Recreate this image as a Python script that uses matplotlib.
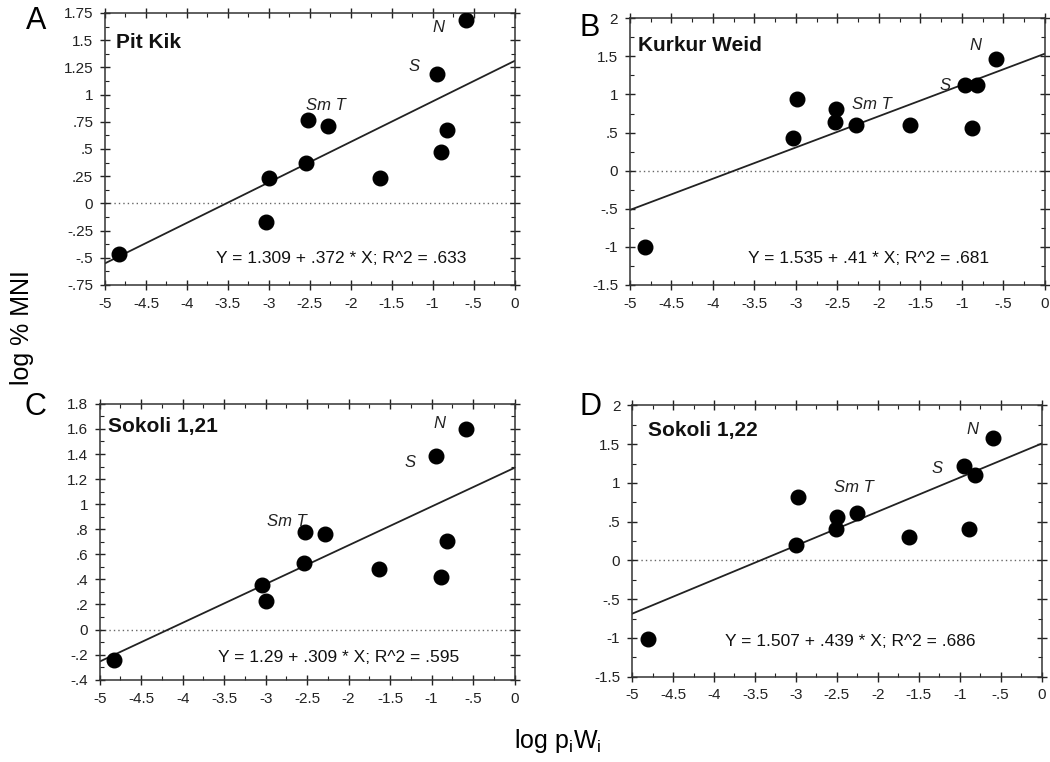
import matplotlib
matplotlib.use("Agg")
import matplotlib.pyplot as plt
from matplotlib.ticker import MultipleLocator, FuncFormatter

plt.rcParams['font.family'] = ['Liberation Sans', 'DejaVu Sans']

# --- data ---
names = ["Pit Kik", "Kurkur Weid", "Sokoli 1,21", "Sokoli 1,22"]
letters = ["A", "B", "C", "D"]

x_a = [-4.83, -3.04, -3.00, -2.55, -2.52, -2.28, -1.64, -0.95, -0.90, -0.82, -0.59]
y_a = [-0.465, -0.17, 0.229, 0.37, 0.765, 0.71, 0.229, 1.193, 0.474, 0.673, 1.683]

x_b = [-4.82, -3.03, -2.99, -2.52, -2.53, -2.27, -1.63, -0.96, -0.82, -0.88, -0.59]
y_b = [-1.005, 0.425, 0.937, 0.806, 0.64, 0.605, 0.60, 1.12, 1.12, 0.561, 1.47]

x_c = [-4.83, -3.04, -3.00, -2.54, -2.52, -2.28, -1.63, -0.95, -0.89, -0.81, -0.58]
y_c = [-0.241, 0.355, 0.228, 0.532, 0.779, 0.766, 0.479, 1.385, 0.419, 0.707, 1.60]

x_d = [-4.80, -3.00, -2.98, -2.50, -2.51, -2.26, -1.62, -0.95, -0.81, -0.89, -0.59]
y_d = [-1.009, 0.197, 0.816, 0.56, 0.41, 0.615, 0.303, 1.222, 1.103, 0.41, 1.573]

intercepts = [1.309, 1.535, 1.29, 1.507]
slopes = [0.372, 0.41, 0.309, 0.439]
eq_text = ["Y = 1.309 + .372 * X; R^2 = .633",
           "Y = 1.535 + .41 * X; R^2 = .681",
           "Y = 1.29 + .309 * X; R^2 = .595",
           "Y = 1.507 + .439 * X; R^2 = .686"]

ylims = [(-0.75, 1.75), (-1.5, 2.0), (-0.4, 1.8), (-1.5, 2.0)]
ymajor = [0.25, 0.5, 0.2, 0.5]
yminor = [0.125, 0.25, 0.1, 0.25]

# label positions (data coords)
n_pos = [(-0.93, 1.62), (-0.84, 1.64), (-0.90, 1.64), (-0.84, 1.69)]
s_pos = [(-1.23, 1.26), (-1.20, 1.12), (-1.26, 1.33), (-1.27, 1.19)]
smt_pos = [(-2.30, 0.90), (-2.09, 0.87), (-2.75, 0.86), (-2.29, 0.94)]
eq_pos = [(-2.12, -0.51), (-2.13, -1.15), (-2.12, -0.225), (-2.34, -1.04)]
title_pos = [(-4.86, 1.48), (-4.90, 1.64), (-4.90, 1.62), (-4.80, 1.68)]

xs = [x_a, x_b, x_c, x_d]
ys = [y_a, y_b, y_c, y_d]

# axes rectangles in figure fractions
rects = [[0.100, 0.626, 0.390, 0.357],
         [0.600, 0.626, 0.395, 0.350],
         [0.095, 0.108, 0.395, 0.362],
         [0.602, 0.112, 0.390, 0.356]]
letter_pos = [(0.034, 0.972), (0.562, 0.963), (0.034, 0.466), (0.562, 0.466)]


def short_fmt(v, pos):
    s = f"{v:.2f}".rstrip("0").rstrip(".")
    if s in ("-0", ""):
        s = "0"
    s = s.replace("-0.", "-.")
    if s.startswith("0."):
        s = s[1:]
    return s


fig = plt.figure(figsize=(10.5, 7.62), dpi=100)
fig.patch.set_facecolor("white")

for i in range(4):
    ax = fig.add_axes(rects[i])
    ax.set_xlim(-5, 0)
    ax.set_ylim(*ylims[i])

    ax.axhline(0, color="#666666", linestyle=(0, (1, 2.2)), linewidth=1.0, zorder=1)
    lx = [-5, 0]
    ly = [intercepts[i] + slopes[i] * v for v in lx]
    ax.plot(lx, ly, color="#222222", linewidth=1.3, zorder=2)
    ax.plot(xs[i], ys[i], "o", color="black", markersize=10.5, zorder=3)

    ax.text(*title_pos[i], names[i], fontsize=15, fontweight="bold",
            ha="left", va="center", color="#111111")
    ax.text(*n_pos[i], "N", fontsize=12, style="italic", ha="center", va="center", color="#222222")
    ax.text(*s_pos[i], "S", fontsize=12, style="italic", ha="center", va="center", color="#222222")
    ax.text(*smt_pos[i], "Sm T", fontsize=12, style="italic", ha="center", va="center", color="#222222")
    ax.text(*eq_pos[i], eq_text[i], fontsize=12.5, ha="center", va="center", color="#111111")

    ax.xaxis.set_major_locator(MultipleLocator(0.5))
    ax.xaxis.set_minor_locator(MultipleLocator(0.25))
    ax.yaxis.set_major_locator(MultipleLocator(ymajor[i]))
    ax.yaxis.set_minor_locator(MultipleLocator(yminor[i]))
    ax.xaxis.set_major_formatter(FuncFormatter(short_fmt))
    ax.yaxis.set_major_formatter(FuncFormatter(short_fmt))
    ax.tick_params(which="major", direction="inout", length=7, width=1.0,
                   top=True, right=True, labelsize=11, pad=5, colors="#222222")
    ax.tick_params(which="minor", direction="in", length=3, width=0.8,
                   top=True, right=True, colors="#222222")
    for sp in ax.spines.values():
        sp.set_linewidth(1.1)
        sp.set_color("#333333")

    fig.text(*letter_pos[i], letters[i], fontsize=22, ha="center", va="center")

fig.text(0.021, 0.57, "log % MNI", rotation=90, fontsize=18, ha="center", va="center")
fig.text(0.531, 0.028, "log p$_\\mathregular{i}$W$_\\mathregular{i}$", fontsize=18,
         ha="center", va="center")

fig.savefig("out.png", dpi=100, facecolor="white")
